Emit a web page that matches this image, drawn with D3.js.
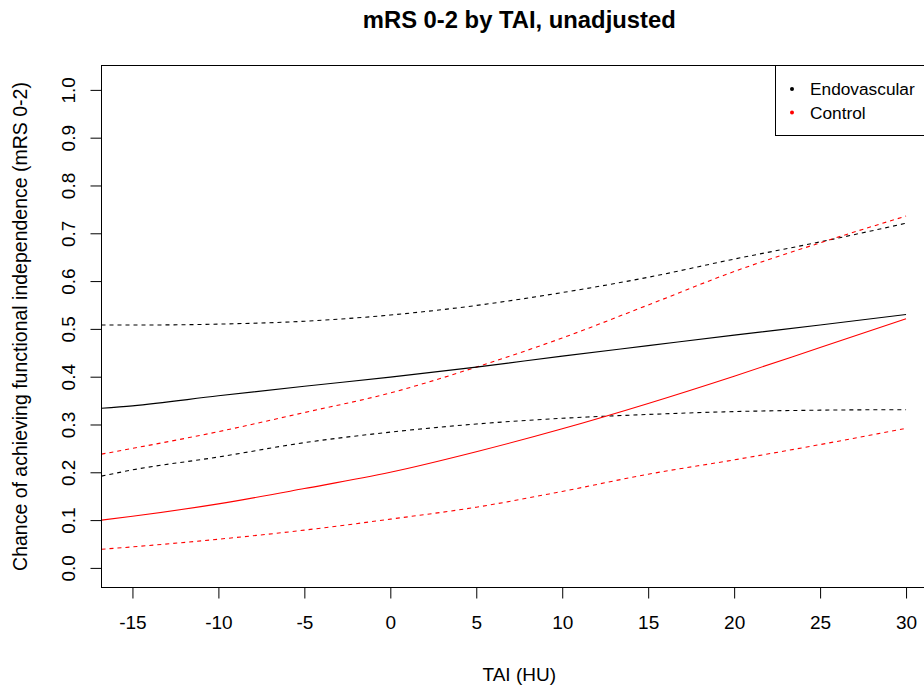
<!DOCTYPE html>
<html>
<head>
<meta charset="utf-8">
<script src="https://cdn.jsdelivr.net/npm/d3@7"></script>
<style>
  html, body { margin: 0; padding: 0; background: #fff; }
  svg { display: block; font-family: "Liberation Sans", Arial, sans-serif; }
</style>
</head>
<body>
<svg id="chart" width="924" height="686"></svg>
<script>
// TAI grid (HU) at which the fitted curves were evaluated
const tai = [-16.8, -15, -10, -5, 0, 5, 10, 15, 20, 25, 30];

// Endovascular: fitted probability of mRS 0-2 with 95% band
const endoFit   = [0.334, 0.339, 0.360, 0.380, 0.399, 0.420, 0.443, 0.465, 0.487, 0.508, 0.530];
const endoUpper = [0.508, 0.508, 0.510, 0.516, 0.529, 0.549, 0.576, 0.608, 0.646, 0.682, 0.721];
const endoLower = [0.192, 0.205, 0.232, 0.262, 0.284, 0.301, 0.313, 0.321, 0.327, 0.330, 0.331];

// Control: fitted probability of mRS 0-2 with 95% band
const ctrlFit   = [0.100, 0.108, 0.134, 0.166, 0.200, 0.243, 0.291, 0.344, 0.401, 0.461, 0.521];
const ctrlUpper = [0.238, 0.250, 0.285, 0.325, 0.366, 0.420, 0.481, 0.550, 0.620, 0.680, 0.736];
const ctrlLower = [0.039, 0.044, 0.060, 0.079, 0.102, 0.127, 0.160, 0.196, 0.226, 0.258, 0.292];

// Axis ticks and labels
const xTicks = [-15, -10, -5, 0, 5, 10, 15, 20, 25, 30];
const yTicks = [0, 0.1, 0.2, 0.3, 0.4, 0.5, 0.6, 0.7, 0.8, 0.9, 1.0];
const legendNames = ["Endovascular", "Control"];
const legendColors = ["#000000", "#ff0000"];

const svg = d3.select("#chart");

// plot region (frame)
const box = { left: 101.5, right: 937, top: 65.5, bottom: 587.5 };

const x = d3.scaleLinear().domain([-16.8, 31.8]).range([box.left, box.right]);
const y = d3.scaleLinear().domain([-0.041, 1.051]).range([box.bottom, box.top]);

svg.append("defs").append("clipPath").attr("id", "plotClip")
  .append("rect")
  .attr("x", box.left).attr("y", box.top)
  .attr("width", box.right - box.left).attr("height", box.bottom - box.top);

const line = d3.line()
  .x(d => x(d[0]))
  .y(d => y(d[1]))
  .curve(d3.curveMonotoneX);

const series = [
  { vals: endoUpper, color: "#000", dash: "4,4" },
  { vals: endoLower, color: "#000", dash: "4,4" },
  { vals: ctrlUpper, color: "#ff0000", dash: "4,4" },
  { vals: ctrlLower, color: "#ff0000", dash: "4,4" },
  { vals: endoFit,   color: "#000", dash: null },
  { vals: ctrlFit,   color: "#ff0000", dash: null }
];

const plot = svg.append("g").attr("clip-path", "url(#plotClip)");
series.forEach(s => {
  plot.append("path")
    .datum(tai.map((t, i) => [t, s.vals[i]]))
    .attr("d", line)
    .attr("fill", "none")
    .attr("stroke", s.color)
    .attr("stroke-width", 1.1)
    .attr("stroke-dasharray", s.dash);
});

// frame
svg.append("rect")
  .attr("x", box.left).attr("y", box.top)
  .attr("width", box.right - box.left).attr("height", box.bottom - box.top)
  .attr("fill", "none").attr("stroke", "#000").attr("stroke-width", 1);

// x axis
const xAxis = d3.axisBottom(x).tickValues(xTicks).tickSize(11).tickPadding(17)
  .tickFormat(d3.format("d"));
const gx = svg.append("g").attr("transform", `translate(0,${box.bottom})`).call(xAxis);
gx.select(".domain").remove();
gx.selectAll(".tick line").attr("stroke", "#000");
gx.selectAll(".tick text").attr("fill", "#000").attr("font-size", 19)
  .attr("font-family", "Liberation Sans, Arial, sans-serif")
  .text(d => d < 0 ? "-" + Math.abs(d) : String(d));

// y axis with rotated tick labels
const yAxis = d3.axisLeft(y).tickValues(yTicks).tickSize(11).tickFormat(d3.format(".1f"));
const gy = svg.append("g").attr("transform", `translate(${box.left},0)`).call(yAxis);
gy.select(".domain").remove();
gy.selectAll(".tick line").attr("stroke", "#000");
gy.selectAll(".tick text")
  .attr("fill", "#000").attr("font-size", 19)
  .attr("font-family", "Liberation Sans, Arial, sans-serif")
  .attr("x", null).attr("dy", null)
  .attr("text-anchor", "middle")
  .attr("transform", "translate(-33,0) rotate(-90)")
  .attr("dominant-baseline", "central");

// title
const cx = (box.left + box.right) / 2;
svg.append("text")
  .attr("x", cx).attr("y", 28)
  .attr("text-anchor", "middle")
  .attr("font-size", 23.8).attr("font-weight", "bold")
  .text("mRS 0-2 by TAI, unadjusted");

// axis titles
svg.append("text")
  .attr("x", cx).attr("y", 681)
  .attr("text-anchor", "middle")
  .attr("font-size", 19)
  .text("TAI (HU)");

svg.append("text")
  .attr("transform", `translate(27,${(box.top + box.bottom) / 2}) rotate(-90)`)
  .attr("text-anchor", "middle")
  .attr("font-size", 19.5)
  .text("Chance of achieving functional independence (mRS 0-2)");

// legend
const lg = svg.append("g");
lg.append("rect")
  .attr("x", 775.5).attr("y", box.top)
  .attr("width", box.right - 775.5).attr("height", 135.5 - box.top)
  .attr("fill", "#fff").attr("stroke", "#000").attr("stroke-width", 1);
legendNames.forEach((name, i) => {
  const yy = 89 + i * 23.5;
  lg.append("circle").attr("cx", 792).attr("cy", yy).attr("r", 2)
    .attr("fill", legendColors[i]);
  lg.append("text").attr("x", 810).attr("y", yy)
    .attr("dominant-baseline", "central")
    .attr("font-size", 17.3)
    .text(name);
});
</script>
</body>
</html>
